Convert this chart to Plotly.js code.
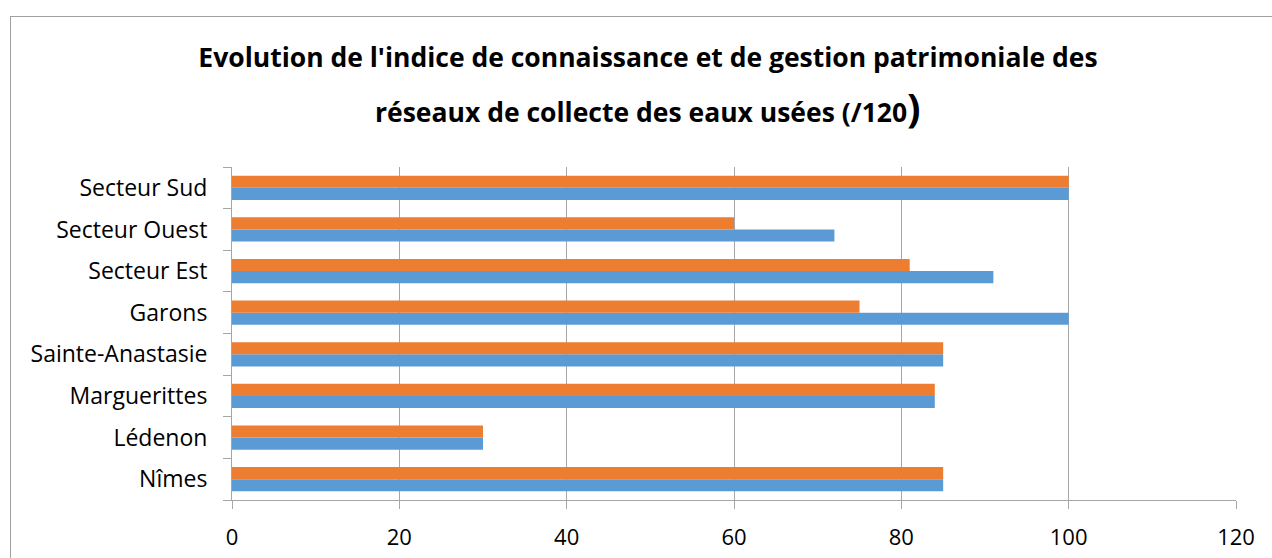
<!DOCTYPE html>
<html>
<head>
<meta charset="utf-8">
<script src="https://cdn.plot.ly/plotly-3.0.1.min.js"></script>
<style>
  html, body { margin: 0; padding: 0; background: #fff; }
  #wrap { position: relative; width: 1272px; height: 558px; overflow: hidden; }
  #chart { width: 1272px; height: 558px; }
  #frame { position: absolute; left: 10px; top: 16px; width: 1400px; height: 700px;
           border-left: 1px solid #a0a0a0; border-top: 1px solid #a0a0a0; pointer-events: none; }
</style>
</head>
<body>
<div id="wrap">
  <div id="chart"></div>
  <div id="frame"></div>
</div>
<script>
const categories = ["Nîmes", "Lédenon", "Marguerittes", "Sainte-Anastasie", "Garons", "Secteur Est", "Secteur Ouest", "Secteur Sud"];
const serie1 = [85, 30, 84, 85, 100, 91, 72, 100];   // blue
const serie2 = [85, 30, 84, 85, 75, 81, 60, 100];    // orange
const xTicks = [0, 20, 40, 60, 80, 100, 120];
const titleLine1 = "Evolution de l'indice de connaissance et de gestion patrimoniale des";
const titleLine2 = "réseaux de collecte des eaux usées (/120<span style=\"font-size:40px\">)</span>";

const font = "'Open Sans', sans-serif";
const cx = (648 - 232) / 1004;

const traces = [
  { type: "bar", orientation: "h", name: "Série1", y: categories, x: serie1,
    marker: { color: "#5B9BD5" }, hoverinfo: "x+y" },
  { type: "bar", orientation: "h", name: "Série2", y: categories, x: serie2,
    marker: { color: "#ED7D31" }, hoverinfo: "x+y" }
];

const layout = {
  width: 1272, height: 558,
  margin: { l: 232, r: 36, t: 167, b: 58 },
  paper_bgcolor: "#fff", plot_bgcolor: "#fff",
  barmode: "group", bargap: 0.42, bargroupgap: 0,
  showlegend: false,
  font: { family: font, color: "#000", size: 23 },
  title: { text: "<b>" + titleLine1 + "</b>", x: cx, xref: "paper", xanchor: "center",
           y: 1 - 58 / 558, yref: "container", yanchor: "middle",
           font: { family: font, size: 26.5, color: "#000" } },
  annotations: [
    { text: "<b>" + titleLine2 + "</b>", xref: "paper", yref: "paper", x: cx, xanchor: "center",
      y: 1 + (167 - 106) / 333, yanchor: "middle", showarrow: false,
      font: { family: font, size: 26.5, color: "#000" } }
  ],
  xaxis: {
    range: [0, 120], tickvals: xTicks, ticktext: xTicks.map(String),
    showgrid: true, gridcolor: "#a6a6a6", gridwidth: 1,
    showline: true, linecolor: "#a6a6a6", linewidth: 1,
    ticks: "outside", ticklen: 8, tickcolor: "#a6a6a6",
    zeroline: false, ticklabelstandoff: 10,
    tickfont: { family: font, size: 22, color: "#000" }, fixedrange: true
  },
  yaxis: {
    type: "category", categoryorder: "array", categoryarray: categories,
    showgrid: false, showline: true, linecolor: "#a6a6a6", linewidth: 1,
    ticks: "outside", ticklen: 8, tickcolor: "#a6a6a6", tickson: "boundaries",
    ticklabelstandoff: 19,
    tickfont: { family: font, size: 23, color: "#000" }, fixedrange: true
  }
};

Plotly.newPlot("chart", traces, layout, { displayModeBar: false, staticPlot: true });
</script>
</body>
</html>
